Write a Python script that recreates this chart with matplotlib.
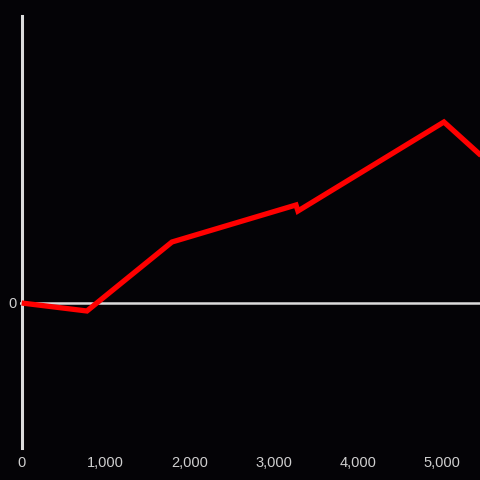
import matplotlib
matplotlib.use("Agg")
import matplotlib.pyplot as plt
from matplotlib.ticker import FuncFormatter

# values (y units are arbitrary, no y scale shown)
x_vals = [0, 776, 1787, 3262, 3285, 5021, 5600]
y_vals = [0, -8, 61, 98, 92, 181, 137]
x_ticks = [0, 1000, 2000, 3000, 4000, 5000]

BG = "#040306"
AXIS = "#dcdcdc"
TEXT = "#cfcfcf"

plt.rcParams["font.family"] = ["Liberation Sans", "DejaVu Sans"]

fig = plt.figure(figsize=(4.8, 4.8), dpi=100, facecolor=BG)
ax = fig.add_axes([20 / 480, 32 / 480, 460 / 480, 432 / 480])
ax.set_facecolor(BG)

ax.plot(x_vals, y_vals, color="#ff0000", linewidth=3.8, solid_joinstyle="miter",
        solid_capstyle="butt", zorder=3)
ax.axhline(0, color=AXIS, linewidth=1.8, zorder=2)

ax.set_xlim(-20, 5450)
ax.set_ylim(-145, 287)

for side in ["top", "right", "bottom"]:
    ax.spines[side].set_visible(False)
ax.spines["left"].set_color(AXIS)
ax.spines["left"].set_linewidth(2.2)
ax.spines["left"].set_position(("data", 0))

ax.set_xticks(x_ticks)
ax.xaxis.set_major_formatter(FuncFormatter(lambda v, p: f"{int(v):,}"))
ax.set_yticks([0])
ax.tick_params(axis="both", length=0, colors=TEXT, labelsize=10.5)
ax.tick_params(axis="x", pad=6)
ax.tick_params(axis="y", pad=4)

fig.savefig("out.png", dpi=100, facecolor=BG)
